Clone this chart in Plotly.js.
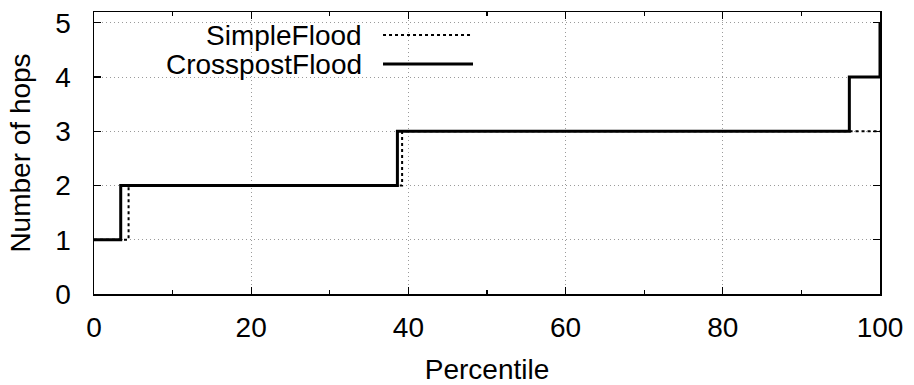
<!DOCTYPE html>
<html>
<head>
<meta charset="utf-8">
<script src="https://cdn.plot.ly/plotly-3.0.1.min.js"></script>
<style>html,body{margin:0;padding:0;background:#fff;}#chart{width:914px;height:385px;}</style>
</head>
<body>
<div id="chart"></div>
<script>
// Data
const seriesNames = ["SimpleFlood", "CrosspostFlood"];
const simpleX = [0, 4.4, 39.2, 100];
const simpleY = [1, 2, 3, 3];
const crossX = [0, 3.4, 38.6, 96.1, 100];
const crossY = [1, 2, 3, 4, 5];
const xTicks = [0, 20, 40, 60, 80, 100];
const yTicks = [0, 1, 2, 3, 4, 5];

const FONT = "Liberation Sans, Arial, Helvetica, sans-serif";

const traces = [
  {x: simpleX, y: simpleY, name: seriesNames[0], mode: "lines",
   line: {shape: "hv", color: "#000", width: 2, dash: "dot"}},
  {x: crossX, y: crossY, name: seriesNames[1], mode: "lines",
   line: {shape: "hv", color: "#000", width: 3}}
];

const axisCommon = {
  showline: true, mirror: "ticks", linecolor: "#000", linewidth: 1.5,
  ticks: "inside", ticklen: 7, tickwidth: 1.2, tickcolor: "#000",
  showgrid: true, gridcolor: "#9a9a9a", griddash: "1px,3px", gridwidth: 1,
  zeroline: false, tickfont: {family: FONT, size: 28, color: "#000"}
};

const layout = {
  width: 914, height: 385,
  margin: {l: 94, r: 34, t: 12, b: 91},
  paper_bgcolor: "#fff", plot_bgcolor: "#fff",
  showlegend: false,
  font: {family: FONT, size: 28, color: "#000"},
  xaxis: Object.assign({}, axisCommon, {
    range: [0, 100], tickmode: "array", tickvals: xTicks,
    ticktext: xTicks.map(String), ticklabelstandoff: 8,
    minor: {dtick: 10, ticks: "inside", ticklen: 4, tickcolor: "#000", showgrid: false},
    title: {text: "Percentile", font: {family: FONT, size: 28}, standoff: 19}
  }),
  yaxis: Object.assign({}, axisCommon, {
    range: [0, 5.2], tickmode: "array", tickvals: yTicks,
    ticktext: yTicks.map(String), ticklabelstandoff: 16,
    title: {text: "Number of hops", font: {family: FONT, size: 28}, standoff: 16}
  }),
  shapes: [
    {type: "rect", xref: "paper", yref: "paper", x0: 0.0267, x1: 0.491, y0: 0.759, y1: 0.961,
     fillcolor: "#fff", line: {width: 0}, layer: "between"},
    {type: "line", xref: "paper", yref: "paper", x0: 0.3677, x1: 0.4822, y0: 0.918, y1: 0.918,
     line: {color: "#000", width: 2, dash: "dot"}},
    {type: "line", xref: "paper", yref: "paper", x0: 0.3677, x1: 0.4822, y0: 0.8156, y1: 0.8156,
     line: {color: "#000", width: 3}}
  ],
  annotations: [
    {xref: "paper", yref: "paper", x: 0.3435, y: 0.918, xanchor: "right", yanchor: "middle",
     text: seriesNames[0], showarrow: false, font: {family: FONT, size: 28, color: "#000"}},
    {xref: "paper", yref: "paper", x: 0.3435, y: 0.8156, xanchor: "right", yanchor: "middle",
     text: seriesNames[1], showarrow: false, font: {family: FONT, size: 28, color: "#000"}}
  ]
};

Plotly.newPlot("chart", traces, layout, {staticPlot: true, displayModeBar: false});
</script>
</body>
</html>
